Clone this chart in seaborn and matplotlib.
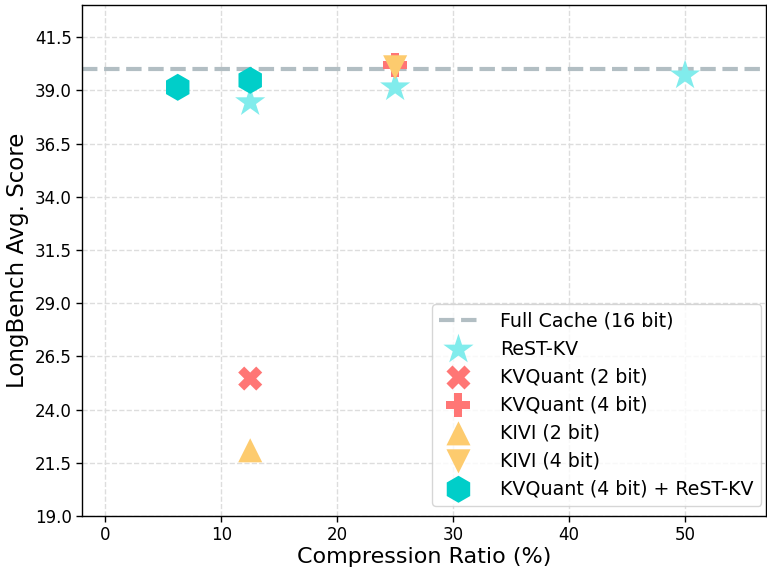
import matplotlib
matplotlib.use("Agg")
import matplotlib.pyplot as plt
import seaborn as sns
import pandas as pd

sns.set_style("white")
plt.rcParams["font.family"] = ["DejaVu Sans"]
plt.rcParams["text.color"] = "black"
plt.rcParams["axes.labelcolor"] = "black"
plt.rcParams["xtick.color"] = "black"
plt.rcParams["ytick.color"] = "black"

# Average LongBench score vs. KV-cache compression ratio
full_cache_score = 39.98

rest_kv_ratio = [12.5, 25, 50]
rest_kv_score = [38.44, 39.14, 39.70]

kvquant2_ratio = [12.5]
kvquant2_score = [25.46]

kvquant4_ratio = [25]
kvquant4_score = [40.20]

kivi2_ratio = [12.5]
kivi2_score = [22.09]

kivi4_ratio = [25]
kivi4_score = [40.08]

combo_ratio = [6.25, 12.5]
combo_score = [39.14, 39.47]

yticks = [19.0, 21.5, 24.0, 26.5, 29.0, 31.5, 34.0, 36.5, 39.0, 41.5]

fig = plt.figure(figsize=(7.67, 5.69), dpi=100)
ax = fig.add_axes([0.107, 0.093, 0.892, 0.898])

ax.axhline(full_cache_score, color="#B2BEC3", linestyle="--", linewidth=3,
           label="Full Cache (16 bit)", zorder=2)

series = [
    (rest_kv_ratio, rest_kv_score, "ReST-KV", "*", "#81ECEC", 520, 3),
    (kvquant2_ratio, kvquant2_score, "KVQuant (2 bit)", "X", "#FF7675", 300, 3),
    (kvquant4_ratio, kvquant4_score, "KVQuant (4 bit)", "P", "#FF7675", 300, 3),
    (kivi2_ratio, kivi2_score, "KIVI (2 bit)", "^", "#FDCB6E", 300, 4),
    (kivi4_ratio, kivi4_score, "KIVI (4 bit)", "v", "#FDCB6E", 300, 4),
    (combo_ratio, combo_score, "KVQuant (4 bit) + ReST-KV", "h", "#00CEC9", 380, 5),
]
for xs, ys, name, mk, col, size, z in series:
    df = pd.DataFrame({"ratio": xs, "score": ys})
    sns.scatterplot(data=df, x="ratio", y="score", marker=mk, color=col, s=size,
                    edgecolor="none", label=name, ax=ax, zorder=z)

ax.set_xlim(-2, 57)
ax.set_ylim(19, 43)
ax.set_xticks([0, 10, 20, 30, 40, 50])
ax.set_yticks(yticks)
ax.set_yticklabels([f"{v:.1f}" for v in yticks])
ax.tick_params(axis="both", labelsize=12, length=4, width=1, direction="out",
               bottom=True, left=True)
ax.set_xlabel("Compression Ratio (%)", fontsize=16, labelpad=2)
ax.set_ylabel("LongBench Avg. Score", fontsize=16.5)
ax.grid(True, linestyle="--", color="#DDDDDD", linewidth=1, zorder=0)
ax.set_axisbelow(True)
for sp in ax.spines.values():
    sp.set_color("black")
    sp.set_linewidth(1)

leg = ax.legend(loc="lower right", bbox_to_anchor=(0.993, 0.02), fontsize=13.7,
                frameon=True, markerscale=1.0, handlelength=2.0, borderpad=0.4,
                labelspacing=0.47, handletextpad=1.2, borderaxespad=0.0)
leg.get_frame().set_edgecolor("#CCCCCC")

fig.savefig("out.png", dpi=100)
